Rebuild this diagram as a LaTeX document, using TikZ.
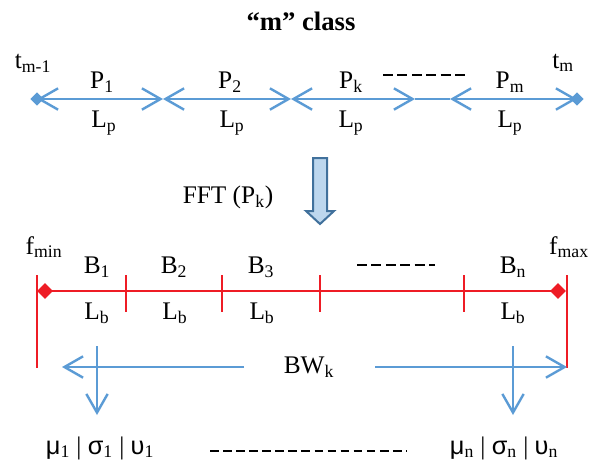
\documentclass[tikz,border=0pt]{standalone}
\usepackage{fontspec}
\setmainfont{Liberation Serif}
\newfontfamily\grk{Liberation Sans}
\usetikzlibrary{arrows.meta,shapes.geometric}
\definecolor{lblue}{HTML}{5B9BD5}
\definecolor{lred}{HTML}{EE1C25}
\definecolor{afill}{HTML}{BDD7EE}
\definecolor{aedge}{HTML}{41719C}
\tikzset{
  lbl/.style={inner sep=0pt, font=\fontsize{19}{22}\selectfont},
  bline/.style={draw=lblue, line width=2.2pt},
  barb/.tip={Straight Barb[length=14pt,width=16pt,line width=1.8pt]},
  ediam/.style={diamond, inner sep=0pt, minimum width=10pt, minimum height=10pt},
  rline/.style={draw=lred, line width=2.2pt},
  rtick/.style={draw=lred, line width=1.6pt},
  dashline/.style={draw=black, line width=0.8pt, dash pattern=on 7.5pt off 3.3pt},
}
\begin{document}
\begin{tikzpicture}[x=0.75pt,y=-0.75pt]
\useasboundingbox (0,0) rectangle (602,462);
% title
\node[lbl,font=\fontsize{20}{24}\selectfont\bfseries] (title) at (301,21) {“m” class};
% top time line
\coordinate (t0) at (37,99);
\coordinate (t1) at (163,99);
\coordinate (t2) at (291,99);
\coordinate (t3) at (415,99);
\coordinate (t4) at (450,99);
\coordinate (t5) at (577,99);
\draw[bline,{barb}-{barb}] (t0) -- (t1);
\draw[bline,{barb}-{barb}] (t1) -- (t2);
\draw[bline,{barb}-{barb}] (t2) -- (t3);
\draw[bline] (t3) -- (t4);
\draw[bline,{barb}-{barb}] (t4) -- (t5);
\node[ediam,fill=lblue] (d0) at (t0) {};
\node[ediam,fill=lblue] (d5) at (t5) {};
\node[lbl] (tml) at (33,63) {t\textsubscript{m-1}};
\node[lbl] (tm) at (563,63) {t\textsubscript{m}};
\node[lbl] (p1) at (102,82) {P\textsubscript{1}};
\node[lbl] (p2) at (230,82) {P\textsubscript{2}};
\node[lbl] (pk) at (351,82) {P\textsubscript{k}};
\node[lbl] (pm) at (510,82) {P\textsubscript{m}};
\coordinate (da) at (383,75);
\coordinate (db) at (468,75);
\draw[dashline] (da) -- (db);
\node[lbl] (lp1) at (104,123) {L\textsubscript{p}};
\node[lbl] (lp2) at (232,123) {L\textsubscript{p}};
\node[lbl] (lp3) at (351,123) {L\textsubscript{p}};
\node[lbl] (lp4) at (510,123) {L\textsubscript{p}};
% FFT arrow
\draw[fill=afill,draw=aedge,line width=1.5pt,line join=miter]
  (313,158) -- (327,158) -- (327,211) -- (334,211) -- (320,224) -- (306,211) -- (313,211) -- cycle;
\node[lbl] (fft) at (228,197) {FFT (P\textsubscript{k})};
% frequency line
\coordinate (f0) at (45,291);
\coordinate (f1) at (558,291);
\draw[rline] (f0) -- (f1);
\node[ediam,fill=lred,minimum width=12pt,minimum height=12pt] (fd0) at (f0) {};
\node[ediam,fill=lred,minimum width=12pt,minimum height=12pt] (fd1) at (f1) {};
\coordinate (vl0) at (37,275);
\coordinate (vl1) at (37,368);
\coordinate (vr0) at (567,275);
\coordinate (vr1) at (567,368);
\draw[rtick,line width=1.8pt] (vl0) -- (vl1);
\draw[rtick,line width=1.8pt] (vr0) -- (vr1);
\foreach \x/\n in {126/a,222/b,320/c,464/d}{
  \coordinate (tk\n0) at (\x,275);
  \coordinate (tk\n1) at (\x,312);
  \draw[rtick] (tk\n0) -- (tk\n1);
}
\node[lbl] (fmin) at (44,247) {f\textsubscript{min}};
\node[lbl] (fmax) at (569,247) {f\textsubscript{max}};
\node[lbl] (b1) at (97,267) {B\textsubscript{1}};
\node[lbl] (b2) at (174,267) {B\textsubscript{2}};
\node[lbl] (b3) at (261,267) {B\textsubscript{3}};
\node[lbl] (bn) at (513,267) {B\textsubscript{n}};
\coordinate (ma) at (357,265);
\coordinate (mb) at (435,265);
\draw[dashline] (ma) -- (mb);
\node[lbl] (lb1) at (97,313) {L\textsubscript{b}};
\node[lbl] (lb2) at (175,313) {L\textsubscript{b}};
\node[lbl] (lb3) at (262,313) {L\textsubscript{b}};
\node[lbl] (lbn) at (513,313) {L\textsubscript{b}};
% bandwidth
\node[lbl] (bw) at (309,367) {BW\textsubscript{k}};
\coordinate (bwl0) at (244,367);
\coordinate (bwl1) at (62,367);
\coordinate (bwr0) at (375,367);
\coordinate (bwr1) at (567,367);
\draw[bline,-{barb}] (bwl0) -- (bwl1);
\draw[bline,-{barb}] (bwr0) -- (bwr1);
\coordinate (s10) at (97,346);
\coordinate (s11) at (97,415);
\coordinate (sn0) at (513,346);
\coordinate (sn1) at (513,415);
\draw[bline,-{barb}] (s10) -- (s11);
\draw[bline,-{barb}] (sn0) -- (sn1);
\node[lbl] (st1) at (100,448) {{\grk μ}\textsubscript{1} | {\grk σ}\textsubscript{1} | {\grk υ}\textsubscript{1}};
\node[lbl] (stn) at (504,448) {{\grk μ}\textsubscript{n} | {\grk σ}\textsubscript{n} | {\grk υ}\textsubscript{n}};
\coordinate (ba) at (210,451);
\coordinate (bb) at (407,451);
\draw[dashline,dash pattern=on 6.5pt off 3.3pt] (ba) -- (bb);
\end{tikzpicture}
\end{document}
